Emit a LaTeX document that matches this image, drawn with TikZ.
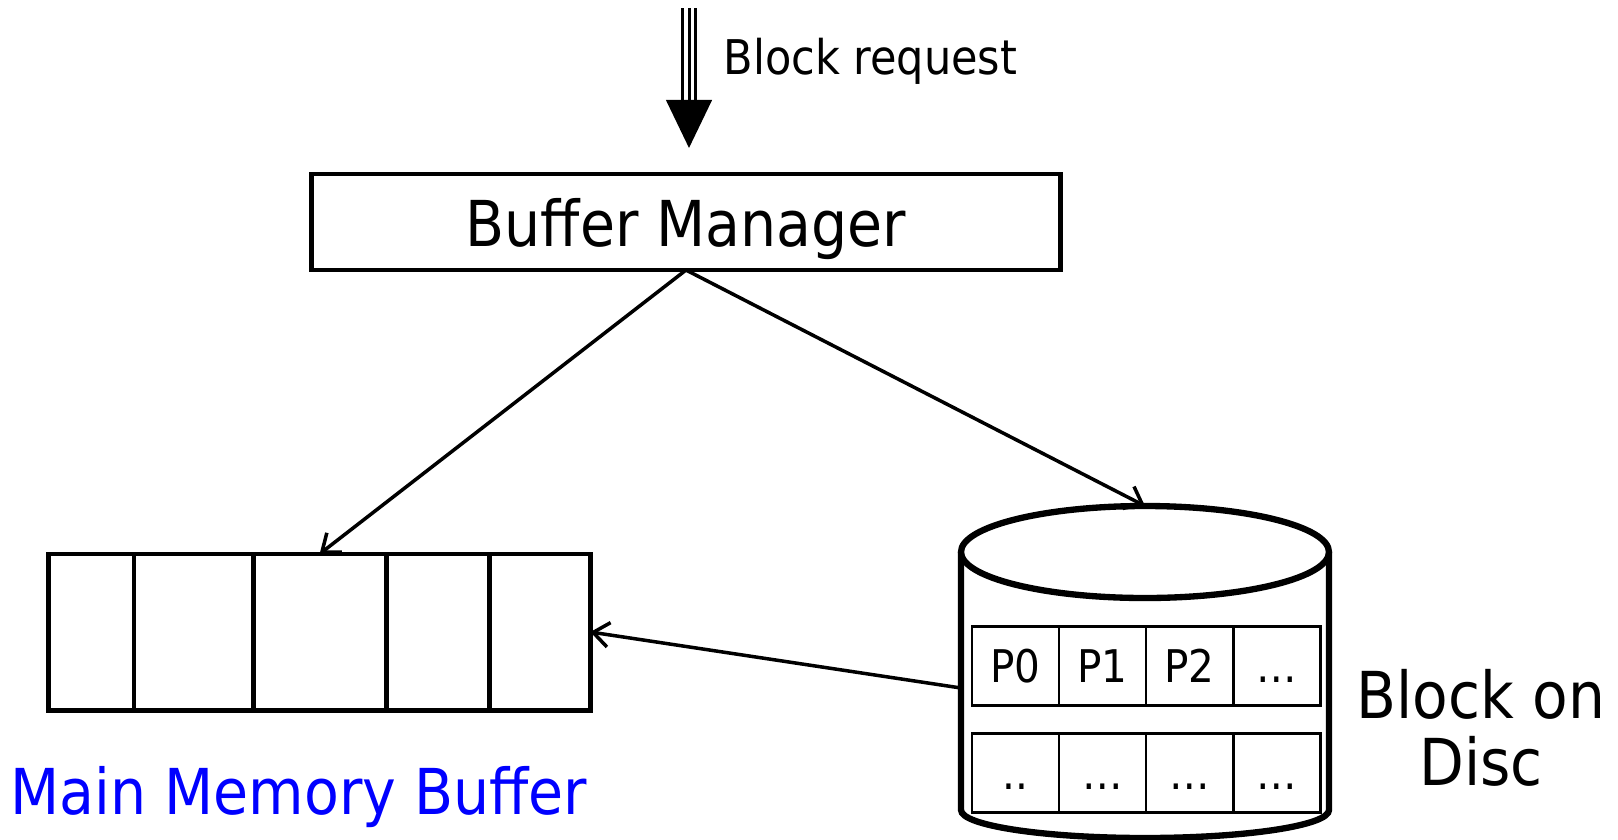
\documentclass[tikz,border=0pt]{standalone}
\usepackage{fontspec}
\setmainfont{DejaVu Sans Condensed}
\usetikzlibrary{arrows.meta, positioning}
\tikzset{
	block/.style={draw, line width=1.4pt, outer sep=0pt, inner sep=0pt},
	cell/.style={block, minimum height=1.56cm},
	page/.style={draw, line width=0.8pt, outer sep=0pt, inner sep=0pt, minimum width=0.87cm, minimum height=0.79cm, font=\fontsize{12.8}{14}\selectfont, text height=9.3pt, text depth=0pt},
	link/.style={line width=1pt, -{Straight Barb[length=4.5pt,width=7pt]}},
	reqshaft/.style={white, line width=3.1pt, preaction={draw=black, line width=4.8pt}, postaction={draw=black, line width=0.85pt}},
	disc/.style={line width=1.8pt},
	caption/.style={inner sep=0pt}
}

\begin{document}
\begin{tikzpicture}[x=0.01cm, y=-0.01cm]
	\useasboundingbox (0,0) rectangle (1618,839);

	\node[block, minimum width=7.48cm, minimum height=0.96cm, text depth=0pt, font=\fontsize{18}{22}\selectfont] (bm) at (686,222) {Buffer Manager};

	% main memory buffer
	\node[cell, minimum width=0.855cm] (m1) at (91.25,632) {};
	\node[cell, minimum width=1.19cm, right=0pt of m1] (m2) {};
	\node[cell, minimum width=1.33cm, right=0pt of m2] (m3) {};
	\node[cell, minimum width=1.03cm, right=0pt of m3] (m4) {};
	\node[cell, minimum width=1.01cm, right=0pt of m4] (m5) {};
	\node[caption, text=blue, font=\fontsize{18}{22}\selectfont] (mmb) at (299,797) {Main Memory Buffer};

	% disc
	\draw[disc] (961,552) -- (961,810) arc[start angle=180, end angle=0, x radius=184, y radius=28] -- (1329,552);
	\draw[disc, fill=white] (1145,552) ellipse [x radius=184, y radius=46];
	\coordinate (disc top) at (1145,506);
	\coordinate (disc side) at (961,688);

	\node[page] (p0) at (1015.5,666) {P0};
	\node[page, right=0pt of p0] (p1) {P1};
	\node[page, right=0pt of p1] (p2) {P2};
	\node[page, right=0pt of p2] (p3) {…};
	\node[page, below=0.28cm of p0] (p4) {..};
	\node[page, right=0pt of p4] (p5) {…};
	\node[page, right=0pt of p5] (p6) {…};
	\node[page, right=0pt of p6] (p7) {…};

	\node[caption, align=center, font=\fontsize{18.4}{19}\selectfont] (disclabel) at (1481,728) {Block on\\Disc};

	% block request
	\coordinate (req) at (689,8);
	\draw[reqshaft, shorten >=0.74cm] (req) -- (req |- bm.north);
	\draw[line width=0.4pt, shorten >=0.26cm, -{Triangle[width=13.1pt,length=13.7pt]}] (req) -- (req |- bm.north);
	\node[caption, anchor=west, font=\fontsize{13.6}{16}\selectfont] (reqlabel) at (723,61) {Block request};

	\draw[link] (bm.south) -- (m3.north);
	\draw[link] (bm.south) -- (disc top);
	\draw[link] (disc side) -- (m5.east);
\end{tikzpicture}
\end{document}
